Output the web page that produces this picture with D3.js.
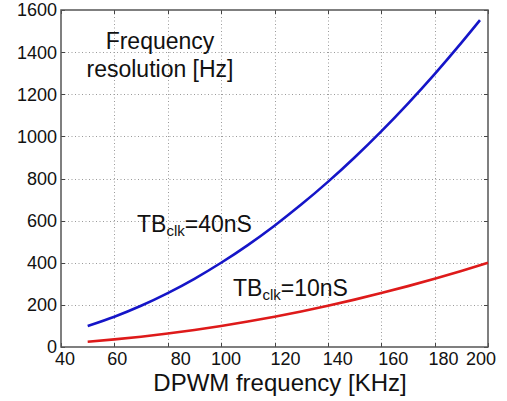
<!DOCTYPE html>
<html>
<head>
<meta charset="utf-8">
<script src="https://cdn.jsdelivr.net/npm/d3@7"></script>
<style>
  html, body { margin: 0; padding: 0; background: #fff; }
  text { font-family: "Liberation Sans", Arial, Helvetica, sans-serif; fill: #111; }
</style>
</head>
<body>
<svg id="chart" width="507" height="401"></svg>
<script>
// ---- data ----
const xTicks = [40, 60, 80, 100, 120, 140, 160, 180, 200];
const yTicks = [0, 200, 400, 600, 800, 1000, 1200, 1400, 1600];
const freq40 = [50, 60, 70, 80, 90, 100, 110, 120, 130, 140, 150, 160, 170, 180, 190, 197];
const res40  = [100, 144, 196, 256, 324, 400, 484, 576, 676, 784, 900, 1024, 1156, 1296, 1444, 1552];
const freq10 = [50, 60, 70, 80, 90, 100, 110, 120, 130, 140, 150, 160, 170, 180, 190, 200];
const res10  = [25, 36, 49, 64, 81, 100, 121, 144, 169, 196, 225, 256, 289, 324, 361, 400];
const xTitle = "DPWM frequency [KHz]";
const yTitleLines = ["Frequency", "resolution [Hz]"];

// ---- layout ----
const svg = d3.select("#chart");
const L = 61, R = 488, T = 10, B = 347;
const xLabelNudge = [4, 3, 13, 5, 11, 10, 12, 9, -7];
const x = d3.scaleLinear().domain([40, 200]).range([L, R]);
const y = d3.scaleLinear().domain([0, 1600]).range([B, T]);

// grid
const grid = svg.append("g").attr("stroke", "#9a9a9a").attr("stroke-width", 1)
  .attr("stroke-dasharray", "1,2.5");
grid.selectAll("line.vx").data(xTicks.slice(1, -1)).enter().append("line")
  .attr("x1", d => Math.round(x(d)) + 0.5).attr("x2", d => Math.round(x(d)) + 0.5)
  .attr("y1", T).attr("y2", B);
grid.selectAll("line.hy").data(yTicks.slice(1, -1)).enter().append("line")
  .attr("x1", L).attr("x2", R)
  .attr("y1", d => Math.round(y(d)) + 0.5).attr("y2", d => Math.round(y(d)) + 0.5);

// ticks (inward, all four sides)
const tk = svg.append("g").attr("stroke", "#444").attr("stroke-width", 1);
xTicks.forEach(d => {
  const px = Math.round(x(d)) + 0.5;
  tk.append("line").attr("x1", px).attr("x2", px).attr("y1", B).attr("y2", B - 4);
  tk.append("line").attr("x1", px).attr("x2", px).attr("y1", T).attr("y2", T + 4);
});
yTicks.forEach(d => {
  const py = Math.round(y(d)) + 0.5;
  tk.append("line").attr("x1", L).attr("x2", L + 4).attr("y1", py).attr("y2", py);
  tk.append("line").attr("x1", R).attr("x2", R - 4).attr("y1", py).attr("y2", py);
});

// box
svg.append("rect").attr("x", L).attr("y", T).attr("width", R - L).attr("height", B - T)
  .attr("fill", "none").attr("stroke", "#555").attr("stroke-width", 1.5);

// tick labels
svg.append("g").selectAll("text").data(xTicks).enter().append("text")
  .attr("x", (d, i) => x(d) + xLabelNudge[i]).attr("y", 365)
  .attr("text-anchor", "middle").attr("font-size", 18).text(d => d);
svg.append("g").selectAll("text").data(yTicks).enter().append("text")
  .attr("x", 57).attr("y", d => y(d)).attr("dy", "0.36em")
  .attr("text-anchor", "end").attr("font-size", 18).text(d => d);

// axis title
svg.append("text").attr("x", 280).attr("y", 391).attr("text-anchor", "middle")
  .attr("font-size", 24).text(xTitle);
svg.append("g").selectAll("text").data(yTitleLines).enter().append("text")
  .attr("x", 160).attr("y", (d, i) => 49 + i * 28).attr("text-anchor", "middle")
  .attr("font-size", 23).text(d => d);

// curves
const line = d3.line().x(d => x(d[0])).y(d => y(d[1])).curve(d3.curveMonotoneX);
svg.append("path").datum(d3.zip(freq40, res40)).attr("d", line)
  .attr("fill", "none").attr("stroke", "#1515c8").attr("stroke-width", 2.6);
svg.append("path").datum(d3.zip(freq10, res10)).attr("d", line)
  .attr("fill", "none").attr("stroke", "#de1a1a").attr("stroke-width", 2.6);

// annotations
function label(px, py, val) {
  const t = svg.append("text").attr("x", px).attr("y", py).attr("font-size", 23);
  t.append("tspan").text("TB");
  t.append("tspan").attr("font-size", 15).attr("dy", 4).text("clk");
  t.append("tspan").attr("dy", -4).text("=" + val);
}
label(137, 232, "40nS");
label(233, 296, "10nS");
</script>
</body>
</html>
